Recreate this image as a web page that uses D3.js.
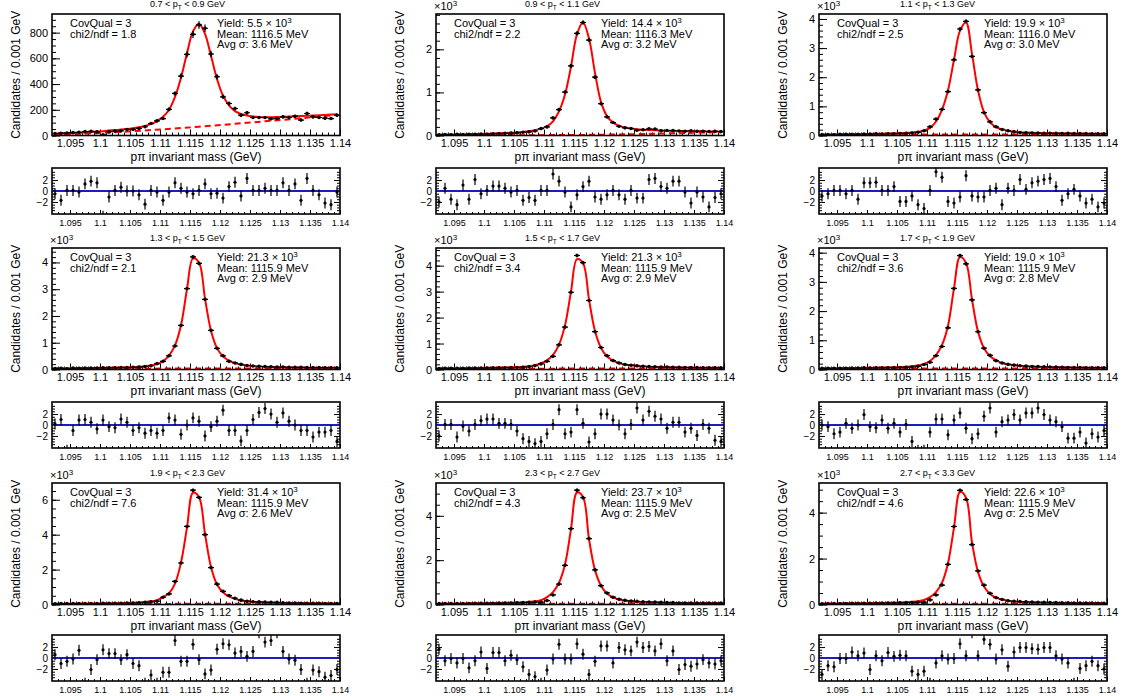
<!DOCTYPE html>
<html>
<head>
<meta charset="utf-8">
<script src="https://cdn.jsdelivr.net/npm/d3@7"></script>
<style>
  body { margin: 0; background: #fff; }
  svg { font-family: "Liberation Sans", Arial, Helvetica, sans-serif; }
  .tick line { stroke: #000; }
</style>
</head>
<body>
<div id="chart"></div>
<script>
// bin centres (GeV), 1 MeV bins
const massBins = [1.0925, 1.0935, 1.0945, 1.0955, 1.0965, 1.0975, 1.0985, 1.0995, 1.1005, 1.1015,
  1.1025, 1.1035, 1.1045, 1.1055, 1.1065, 1.1075, 1.1085, 1.1095, 1.1105, 1.1115,
  1.1125, 1.1135, 1.1145, 1.1155, 1.1165, 1.1175, 1.1185, 1.1195, 1.1205, 1.1215,
  1.1225, 1.1235, 1.1245, 1.1255, 1.1265, 1.1275, 1.1285, 1.1295, 1.1305, 1.1315,
  1.1325, 1.1335, 1.1345, 1.1355, 1.1365, 1.1375, 1.1385, 1.1395];
const massRange = [1.092, 1.140];
const xTickValues = [1.095, 1.1, 1.105, 1.11, 1.115, 1.12, 1.125, 1.13, 1.135, 1.14];
const xTickLabels = ["1.095", "1.1", "1.105", "1.11", "1.115", "1.12", "1.125", "1.13", "1.135", "1.14"];
const bgMass = [1.0925, 1.1005, 1.1085, 1.1165, 1.1245, 1.1325, 1.1395];

const ptLow = ["0.7", "0.9", "1.1", "1.3", "1.5", "1.7", "1.9", "2.3", "2.7"];
const ptHigh = ["0.9", "1.1", "1.3", "1.5", "1.7", "1.9", "2.3", "2.7", "3.3"];
const chi2ndf = ["1.8", "2.2", "2.5", "2.1", "3.4", "3.6", "7.6", "4.3", "4.6"];
const yields = ["5.5", "14.4", "19.9", "21.3", "21.3", "19.0", "31.4", "23.7", "22.6"];
const means = ["1116.5", "1116.3", "1116.0", "1115.9", "1115.9", "1115.9", "1115.9", "1115.9", "1115.9"];
const avgSigma = ["3.6", "3.2", "3.0", "2.9", "2.9", "2.8", "2.6", "2.5", "2.5"];
const yMax = [945, 2820, 4170, 4540, 4680, 4160, 6960, 5480, 5290];
const yExp = [false, true, true, true, true, true, true, true, true];
const yTicks = [[0, 200, 400, 600, 800], [0, 1000, 2000], [0, 1000, 2000, 3000, 4000],
  [0, 1000, 2000, 3000, 4000], [0, 1000, 2000, 3000, 4000], [0, 1000, 2000, 3000, 4000],
  [0, 2000, 4000, 6000], [0, 2000, 4000], [0, 2000, 4000]];
const yTickLabels = [["0", "200", "400", "600", "800"], ["0", "1", "2"], ["0", "1", "2", "3", "4"],
  ["0", "1", "2", "3", "4"], ["0", "1", "2", "3", "4"], ["0", "1", "2", "3", "4"],
  ["0", "2", "4", "6"], ["0", "2", "4"], ["0", "2", "4"]];
const yMinorStep = [50, 200, 200, 200, 200, 200, 500, 500, 500];
const pullTicks = [-2, 0, 2];
const pullTickLabels = ["\u22122", "0", "2"];

// 0.7 < pT < 0.9
const counts07 = [15, 18, 20, 22, 25, 30, 32, 28, 5, 30, 34, 36, 47, 47, 55, 68, 93, 114, 132, 203,
  327, 462, 631, 787, 860, 834, 634, 457, 301, 249, 210, 158, 177, 140, 140, 140, 130, 132, 145, 140,
  150, 120, 171, 145, 140, 135, 132, 158];
const fit07 = [14, 16, 18, 20, 22, 25, 28, 31, 34, 38, 42, 46, 51, 57, 64, 75, 90, 112, 145, 200,
  300, 450, 640, 810, 870, 790, 620, 440, 310, 235, 190, 168, 155, 148, 144, 142, 142, 143, 145, 147,
  149, 151, 153, 155, 157, 160, 163, 166];
const bg07 = [5, 21, 42, 68, 99, 130, 161];
const pull07 = [-0.5, -1.7, 0.1, 0.1, -0.2, 1.3, 1.8, 1.5, -4.6, -1.1, 0.1, 0.7, 0, 0, -0.7, -2.4, 0.1, -0.2, -1.7, -0.2,
  1.5, 0.5, -0.2, -0.5, 0.1, 1.3, -0.5, -0.4, -1.3, 0.8, 1.6, -0.9, 2.3, 0.1, 0.1, 0.5, 0.1, 0.1, 1.5, 0.1,
  1.3, -1.7, 2.3, 0.1, -0.7, -2.2, -2.5, -0.2];

// 0.9 < pT < 1.1
const counts09 = [18, 22, 15, 25, 20, 30, 28, 35, 30, 40, 45, 50, 55, 62, 75, 85, 105, 160, 200, 408,
  600, 1008, 1615, 2370, 2623, 2215, 1354, 738, 430, 300, 215, 177, 162, 123, 135, 155, 150, 110, 115, 112,
  105, 100, 110, 95, 100, 92, 95, 90];
const fit09 = [20, 22, 24, 26, 28, 31, 34, 37, 41, 45, 50, 56, 63, 72, 84, 100, 124, 160, 215, 330,
  560, 950, 1600, 2350, 2620, 2250, 1450, 780, 450, 300, 225, 185, 160, 145, 135, 127, 120, 115, 111, 108,
  105, 102, 100, 98, 96, 94, 92, 90];
const bg09 = [3, 5, 8, 14, 30, 55, 78];
const pull09 = [-2.0, 0.5, -1.5, -2.5, 1.1, -1.5, 2.1, -0.5, 0.1, 0.9, 0.9, 0.5, -0.2, 0.1, -1.7, -1.2, -1.7, 0.1, 0.1, 3.1,
  1.8, -0.2, -2.9, -0.7, 0.8, 1.8, -1.1, -1.5, -0.7, 0.1, -0.7, -1.5, 0.1, -1.3, -1.3, 2.1, 2.3, 0.8, 0.5, 1.8,
  1.8, -0.2, -2.2, -0.2, -1.1, -2.9, -1.2, -0.5];

// 1.1 < pT < 1.3
const counts11 = [30, 35, 25, 40, 38, 45, 40, 50, 48, 55, 52, 60, 62, 70, 75, 85, 110, 161, 299, 563,
  897, 1506, 2598, 3655, 3920, 2713, 1563, 782, 471, 299, 207, 161, 126, 100, 92, 85, 80, 78, 75, 72,
  70, 72, 68, 65, 66, 62, 60, 58];
const fit11 = [35, 37, 39, 41, 43, 45, 48, 51, 54, 58, 62, 67, 73, 80, 90, 103, 125, 165, 260, 480,
  880, 1550, 2600, 3600, 3880, 2800, 1550, 800, 450, 290, 210, 165, 135, 115, 102, 93, 86, 81, 77, 74,
  71, 69, 67, 65, 63, 62, 60, 59];
const bg11 = [22, 26, 30, 34, 38, 42, 46];
const pull11 = [-0.9, -0.5, 0.1, 0.1, -0.5, 0.1, -1.5, 1.5, 1.5, 1.6, 0.1, 0.1, 0.8, -1.9, -1.9, -0.9, -2.5, -3.2, 0.1, 3.5,
  2.5, -1.9, -2.2, -1.1, 2.8, -0.9, -1.1, -1.1, 0.1, 0.5, -2.5, 0.5, 0.1, 2.1, 0.3, 1.5, 1.8, 2.1, 2.3, 0.8,
  -1.7, -0.5, 0.3, -0.9, -2.2, -1.5, -2.9, -2.2];

// 1.3 < pT < 1.5
const counts13 = [40, 45, 25, 50, 48, 55, 52, 58, 60, 62, 65, 70, 75, 80, 90, 110, 140, 220, 305, 512,
  878, 1646, 3024, 4207, 3963, 2622, 1463, 793, 512, 305, 244, 190, 150, 130, 120, 110, 100, 92, 90, 85,
  80, 78, 75, 70, 70, 68, 66, 60];
const fit13 = [42, 44, 46, 48, 50, 53, 56, 59, 63, 67, 72, 78, 85, 93, 105, 122, 150, 200, 310, 520,
  900, 1650, 3000, 4150, 4000, 2650, 1450, 800, 490, 330, 240, 185, 150, 127, 112, 101, 93, 87, 82, 78,
  75, 72, 70, 68, 66, 64, 62, 61];
const bg13 = [24, 28, 32, 36, 40, 44, 48];
const pull13 = [0.2, 1.0, -4.6, -1.0, 0.9, 1.0, 0.5, -0.7, 0.9, -0.3, -0.5, 1.1, 0.5, -1.0, -0.5, -1.5, -1.0, -1.5, -1.0, 1.3,
  0.9, -1.7, 0, 1.3, 0.7, -2.0, -0.3, 0.7, 2.7, -1.0, -1.0, -2.9, -1.0, 1.0, 2.3, 3.0, 2.0, 0.5, 2.2, 0.7,
  0, -1.0, -1.0, -2.2, -1.3, -1.3, -1.0, -3.0];

// 1.5 < pT < 1.7
const counts15 = [40, 42, 45, 48, 45, 52, 55, 55, 60, 62, 65, 68, 72, 78, 88, 105, 150, 215, 316, 506,
  949, 1633, 2975, 4392, 4114, 2658, 1456, 848, 532, 342, 253, 190, 165, 140, 125, 110, 102, 95, 90, 85,
  80, 78, 76, 72, 70, 68, 65, 62];
const fit15 = [44, 46, 48, 50, 52, 55, 58, 62, 66, 70, 75, 81, 88, 97, 110, 130, 165, 230, 350, 560,
  960, 1700, 3000, 4250, 4100, 2700, 1480, 830, 510, 340, 250, 195, 160, 137, 122, 110, 101, 94, 89, 84,
  80, 77, 74, 71, 69, 67, 65, 63];
const bg15 = [24, 28, 32, 36, 40, 44, 48];
const pull15 = [-2.0, 0.1, 0.1, -2.2, -0.2, -1.1, 0.1, 0.8, 1.1, 1.1, 0.3, 0.3, 0.1, -1.1, -2.5, -3.0, -3.4, -3.0, -1.6, 0.1,
  2.8, -1.6, -1.3, 2.8, 0.3, -3.1, -1.6, 2.0, 2.0, 0.9, 0, -1.6, 0.1, 3.1, 0.9, 2.5, 1.6, 1.1, -0.6, 0.5,
  0.5, -1.3, -0.6, -1.9, 0.1, -0.6, -2.8, -3.0];

// 1.7 < pT < 1.9
const counts17 = [38, 40, 42, 45, 44, 48, 50, 55, 52, 55, 60, 62, 66, 70, 78, 85, 110, 169, 247, 472,
  787, 1427, 2775, 3899, 3618, 2382, 1292, 730, 483, 303, 225, 175, 150, 128, 115, 105, 100, 92, 85, 80,
  76, 70, 68, 66, 62, 62, 60, 58];
const fit17 = [40, 42, 44, 46, 48, 50, 53, 56, 59, 63, 67, 72, 78, 86, 97, 113, 140, 190, 290, 490,
  840, 1500, 2780, 3850, 3650, 2400, 1300, 730, 460, 310, 225, 177, 145, 124, 110, 100, 92, 86, 81, 77,
  74, 71, 69, 67, 65, 63, 61, 60];
const bg17 = [22, 26, 30, 34, 38, 42, 46];
const pull17 = [0, -0.3, -1.6, -1.3, 0.3, -0.6, 0, 1.9, -0.3, -0.5, 0.9, -0.6, 0.3, -1.3, 0.1, -3.0, -4.6, -4.6, -1.3, 1.1,
  1.1, -1.8, 0.9, 2.2, -0.6, -2.5, -1.6, 1.6, 3.1, -1.3, 0.6, 0.9, 1.9, 0.9, 2.2, 2.2, 3.1, 1.9, 0.9, 0.6,
  -0.3, -2.4, -2.4, -1.3, -3.3, -1.6, -2.2, -1.0];

// 1.9 < pT < 2.3
const counts19 = [45, 48, 50, 52, 55, 52, 55, 58, 62, 65, 70, 72, 78, 85, 95, 120, 150, 189, 415, 604,
  1321, 2377, 4472, 6547, 6132, 4000, 2113, 1170, 755, 509, 358, 250, 190, 160, 150, 140, 125, 120, 100, 90,
  85, 75, 65, 68, 65, 60, 58, 60];
const fit19 = [44, 46, 48, 50, 52, 55, 58, 62, 66, 70, 75, 81, 89, 100, 115, 140, 180, 250, 420, 650,
  1200, 2400, 4400, 6400, 6150, 4050, 2150, 1150, 700, 460, 320, 235, 180, 145, 122, 107, 97, 90, 84, 80,
  76, 73, 70, 68, 66, 64, 62, 60];
const bg19 = [26, 30, 34, 38, 42, 46, 50];
const pull19 = [0.6, -1.0, -0.6, -0.2, 1.4, -4.6, -2.1, -0.3, 1.5, 0.8, 0.8, -0.3, 0.6, -1.0, -1.4, -4.6, -3.1, -4.6, -2.6, -2.6,
  3.2, -0.6, -0.6, 2.5, -0.3, -2.9, -2.2, 1.6, 2.6, 2.4, 0.9, 1.2, 0.3, 1.2, 4.6, 2.9, 3.2, 4.6, 1.2, -0.2,
  -0.4, -2.1, -4.6, -2.2, -2.5, -3.5, -3.2, -2.1];

// 2.3 < pT < 2.7
const counts23 = [40, 42, 44, 45, 46, 48, 50, 52, 55, 58, 62, 65, 70, 75, 85, 95, 110, 104, 178, 431,
  921, 1768, 3418, 5156, 4814, 2972, 1560, 847, 520, 330, 240, 190, 160, 140, 125, 115, 105, 100, 85, 85,
  70, 70, 68, 66, 65, 62, 60, 60];
const fit23 = [42, 44, 46, 48, 50, 52, 55, 58, 61, 65, 69, 74, 80, 88, 100, 118, 145, 195, 330, 560,
  980, 1800, 3400, 5050, 4850, 2950, 1550, 850, 500, 320, 225, 170, 135, 115, 100, 92, 85, 80, 76, 73,
  70, 68, 66, 64, 63, 62, 61, 60];
const bg23 = [24, 28, 32, 36, 40, 44, 48];
const pull23 = [1.6, -0.5, -0.1, -0.9, -0.1, -1.8, -0.5, 1.1, -1.9, 1.0, 1.0, -0.5, 0.5, -0.3, -1.6, -3.0, -3.4, -4.6, -2.2, -0.2,
  2.5, -0.2, -0.2, 2.6, 0.7, -3.0, -0.6, 2.2, 2.2, -0.9, 1.9, 1.5, 1.3, 2.9, 1.9, 2.1, 1.3, 2.6, -0.5, 1.3,
  -2.1, -1.2, -1.5, -1.1, -0.3, -0.9, -1.1, -0.5];

// 2.7 < pT < 3.3
const counts27 = [30, 38, 40, 45, 46, 50, 50, 54, 52, 58, 60, 65, 68, 72, 80, 90, 100, 100, 200, 415,
  845, 1748, 3395, 4971, 4570, 2607, 1461, 845, 487, 300, 220, 165, 140, 125, 115, 105, 98, 92, 88, 80,
  75, 70, 66, 62, 60, 60, 57, 55];
const fit27 = [42, 44, 46, 48, 50, 52, 55, 58, 61, 65, 69, 74, 80, 88, 100, 118, 145, 195, 320, 540,
  950, 1800, 3350, 4900, 4650, 2700, 1420, 780, 460, 300, 215, 165, 133, 113, 100, 91, 85, 80, 76, 73,
  70, 68, 66, 64, 62, 61, 60, 58];
const bg27 = [22, 26, 30, 34, 38, 42, 46];
const pull27 = [-3.0, -1.4, -1.6, -0.1, -0.1, 1.1, 0.4, 0.9, -2.1, 0.4, -0.5, 1.0, 0.3, 0.5, 0.4, -2.4, -3.0, -2.4, -4.6, -0.9,
  0.4, -0.2, -0.1, 2.6, 0.4, 4.6, 0.4, 3.4, 2.5, -0.2, 1.5, -1.5, 1.1, 1.9, 1.9, 1.7, 1.6, 1.9, 1.9, 0.4,
  -0.2, -0.9, -4.6, -1.9, -1.4, -0.6, -1.4, -2.0];

const allCounts = [counts07, counts09, counts11, counts13, counts15, counts17, counts19, counts23, counts27];
const allFits = [fit07, fit09, fit11, fit13, fit15, fit17, fit19, fit23, fit27];
const allBg = [bg07, bg09, bg11, bg13, bg15, bg17, bg19, bg23, bg27];
const allPulls = [pull07, pull09, pull11, pull13, pull15, pull17, pull19, pull23, pull27];

// layout
const colLeft = [52, 436, 819];
const rowTop = [14, 248, 483];
const resTop = [168, 402, 635];
const frameWidth = 288;
const frameHeight = 121.5;
const resHeight = 46;
const pullRange = [-4.2, 4.2];

const svg = d3.select("#chart").append("svg")
  .attr("width", 1125)
  .attr("height", 696);

class massPanel {
  constructor(svg, idx) {
    this.svg = svg;
    this.idx = idx;
    this.initVis();
  }

  initVis() {
    let vis = this;
    vis.col = vis.idx % 3;
    vis.row = Math.floor(vis.idx / 3);
    vis.left = colLeft[vis.col];
    vis.top = rowTop[vis.row];

    vis.x = d3.scaleLinear().domain(massRange).range([0, frameWidth]);
    vis.y = d3.scaleLinear().domain([0, yMax[vis.idx]]).range([frameHeight, 0]);
    vis.yRes = d3.scaleLinear().domain(pullRange).range([resHeight, 0]);

    vis.main = vis.svg.append("g")
      .attr("transform", "translate(" + vis.left + "," + vis.top + ")");
    vis.res = vis.svg.append("g")
      .attr("transform", "translate(" + vis.left + "," + resTop[vis.row] + ")");

    vis.main.append("clipPath").attr("id", "clipMain" + vis.idx)
      .append("rect").attr("width", frameWidth).attr("height", frameHeight);
    vis.res.append("clipPath").attr("id", "clipRes" + vis.idx)
      .append("rect").attr("width", frameWidth).attr("height", resHeight);

    vis.data = massBins.map((m, i) => ({
      m: m,
      n: allCounts[vis.idx][i],
      fit: allFits[vis.idx][i],
      pull: allPulls[vis.idx][i]
    }));
    vis.bgData = bgMass.map((m, i) => ({ m: m, v: allBg[vis.idx][i] }));

    vis.updateVis();
  }

  drawXAxis(g, h, major, minor, pad, fontSize) {
    let vis = this;
    let minorTicks = d3.range(1093, 1141).map((d) => d / 1000)
      .filter((d) => Math.round(d * 1000) % 5 !== 0);
    g.append("g")
      .attr("transform", "translate(0," + h + ")")
      .call(d3.axisBottom(vis.x).tickValues(minorTicks).tickSize(-minor).tickFormat(""))
      .call((a) => a.select(".domain").remove());
    g.append("g")
      .attr("transform", "translate(0," + h + ")")
      .call(d3.axisBottom(vis.x).tickValues(xTickValues).tickSize(-major).tickPadding(pad)
        .tickFormat((d, i) => xTickLabels[i]))
      .call((a) => a.select(".domain").remove())
      .selectAll("text")
      .style("font-size", fontSize + "px")
      .style("font-family", "Liberation Sans, Arial, sans-serif")
      .attr("fill", "#000");
  }

  updateVis() {
    let vis = this;
    let idx = vis.idx;

    // ---- main frame ----
    let yMinor = d3.range(0, yMax[idx], yMinorStep[idx]);
    vis.main.append("g")
      .call(d3.axisLeft(vis.y).tickValues(yMinor).tickSize(-4).tickFormat(""))
      .call((a) => a.select(".domain").remove());
    vis.main.append("g")
      .call(d3.axisLeft(vis.y).tickValues(yTicks[idx]).tickSize(-8).tickPadding(4)
        .tickFormat((d, i) => yTickLabels[idx][i]))
      .call((a) => a.select(".domain").remove())
      .selectAll("text")
      .style("font-size", "11px")
      .style("font-family", "Liberation Sans, Arial, sans-serif")
      .attr("fill", "#000");
    vis.drawXAxis(vis.main, frameHeight, 6, 3, 4, 11);

    let plot = vis.main.append("g").attr("clip-path", "url(#clipMain" + idx + ")");

    // background component (dashed)
    plot.append("path")
      .datum(vis.bgData)
      .attr("d", d3.line().x((d) => vis.x(d.m)).y((d) => vis.y(d.v)).curve(d3.curveMonotoneX))
      .style("fill", "none")
      .style("stroke", "#ff0000")
      .style("stroke-width", 2)
      .style("stroke-dasharray", "6,4");

    // total fit
    plot.append("path")
      .datum(vis.data)
      .attr("d", d3.line().x((d) => vis.x(d.m)).y((d) => vis.y(d.fit)).curve(d3.curveCatmullRom.alpha(0.5)))
      .style("fill", "none")
      .style("stroke", "#ff0000")
      .style("stroke-width", 2);

    // data points with errors
    let halfBin = (vis.x(1.001) - vis.x(1.0)) / 2;
    let pts = plot.selectAll(".pt").data(vis.data).enter().append("g").attr("class", "pt");
    pts.append("line")
      .attr("x1", (d) => vis.x(d.m) - halfBin)
      .attr("x2", (d) => vis.x(d.m) + halfBin)
      .attr("y1", (d) => vis.y(d.n))
      .attr("y2", (d) => vis.y(d.n))
      .style("stroke", "#000").style("stroke-width", 1.2);
    pts.append("line")
      .attr("x1", (d) => vis.x(d.m))
      .attr("x2", (d) => vis.x(d.m))
      .attr("y1", (d) => vis.y(d.n + Math.sqrt(d.n)))
      .attr("y2", (d) => vis.y(d.n - Math.sqrt(d.n)))
      .style("stroke", "#000").style("stroke-width", 1.2);
    pts.append("circle")
      .attr("cx", (d) => vis.x(d.m))
      .attr("cy", (d) => vis.y(d.n))
      .attr("r", 1.8)
      .style("fill", "#000");

    vis.main.append("rect")
      .attr("width", frameWidth).attr("height", frameHeight)
      .style("fill", "none").style("stroke", "#000").style("stroke-width", 1.6);

    // texts
    let pad = vis.col * 375 + 187.5 - vis.left;
    let title = vis.main.append("text")
      .attr("x", pad).attr("y", -7)
      .attr("text-anchor", "middle")
      .style("font-size", "9px");
    title.append("tspan").text(ptLow[idx] + " < p");
    title.append("tspan").attr("dy", 2.5).style("font-size", "6.5px").text("T");
    title.append("tspan").attr("dy", -2.5).text("  < " + ptHigh[idx] + " GeV");

    if (yExp[idx]) {
      let ex = vis.main.append("text").attr("x", -2).attr("y", -4).style("font-size", "11px");
      ex.append("tspan").text("\u00d710");
      ex.append("tspan").attr("dy", -4).style("font-size", "8px").text("3");
    }

    vis.main.append("text")
      .attr("transform", "translate(-36," + frameHeight / 2 + ") rotate(-90)")
      .attr("text-anchor", "middle")
      .attr("dy", "0.35em")
      .style("font-size", "12px")
      .text("Candidates / 0.001 GeV");

    vis.main.append("text")
      .attr("x", frameWidth / 2).attr("y", frameHeight + 25)
      .attr("text-anchor", "middle")
      .style("font-size", "12px")
      .text("p\u03c0 invariant mass (GeV)");

    let leftLines = ["CovQual = 3", "chi2/ndf = " + chi2ndf[idx]];
    vis.main.selectAll(".lt").data(leftLines).enter().append("text")
      .attr("x", 18).attr("y", (d, i) => 13 + i * 10.5)
      .style("font-size", "11px")
      .text((d) => d);

    let yl = vis.main.append("text").attr("x", 165).attr("y", 13).style("font-size", "11px");
    yl.append("tspan").text("Yield: " + yields[idx] + " \u00d7 10");
    yl.append("tspan").attr("dy", -4).style("font-size", "8px").text("3");
    vis.main.append("text").attr("x", 165).attr("y", 23.5).style("font-size", "11px")
      .text("Mean: " + means[idx] + " MeV");
    vis.main.append("text").attr("x", 165).attr("y", 34).style("font-size", "11px")
      .text("Avg \u03c3: " + avgSigma[idx] + " MeV");

    // ---- residual frame ----
    let pullMinor = d3.range(-4, 4.01, 0.5).filter((d) => d % 2 !== 0);
    vis.res.append("g")
      .call(d3.axisLeft(vis.yRes).tickValues(pullMinor).tickSize(-3).tickFormat(""))
      .call((a) => a.select(".domain").remove());
    vis.res.append("g")
      .attr("transform", "translate(" + frameWidth + ",0)")
      .call(d3.axisRight(vis.yRes).tickValues(pullMinor).tickSize(-3).tickFormat(""))
      .call((a) => a.select(".domain").remove());
    vis.res.append("g")
      .attr("transform", "translate(" + frameWidth + ",0)")
      .call(d3.axisRight(vis.yRes).tickValues(pullTicks).tickSize(-6).tickFormat(""))
      .call((a) => a.select(".domain").remove());
    vis.res.append("g")
      .call(d3.axisLeft(vis.yRes).tickValues(pullTicks).tickSize(-6).tickPadding(4)
        .tickFormat((d, i) => pullTickLabels[i]))
      .call((a) => a.select(".domain").remove())
      .selectAll("text")
      .style("font-size", "10px")
      .style("font-family", "Liberation Sans, Arial, sans-serif")
      .attr("fill", "#000");
    vis.drawXAxis(vis.res, resHeight, 4, 2, 6, 9);

    let rplot = vis.res.append("g").attr("clip-path", "url(#clipRes" + idx + ")");
    rplot.append("line")
      .attr("x1", 0).attr("x2", frameWidth)
      .attr("y1", vis.yRes(0)).attr("y2", vis.yRes(0))
      .style("stroke", "#1c1cc0").style("stroke-width", 2);

    let rp = rplot.selectAll(".rp").data(vis.data).enter().append("g").attr("class", "rp");
    rp.append("line")
      .attr("x1", (d) => vis.x(d.m))
      .attr("x2", (d) => vis.x(d.m))
      .attr("y1", (d) => vis.yRes(d.pull + 1))
      .attr("y2", (d) => vis.yRes(d.pull - 1))
      .style("stroke", "#000").style("stroke-width", 1.2);
    rp.append("circle")
      .attr("cx", (d) => vis.x(d.m))
      .attr("cy", (d) => vis.yRes(d.pull))
      .attr("r", 1.6)
      .style("fill", "#000");

    vis.res.append("rect")
      .attr("width", frameWidth).attr("height", resHeight)
      .style("fill", "none").style("stroke", "#000").style("stroke-width", 1.6);
  }
}

for (let i = 0; i < 9; i++) {
  new massPanel(svg, i);
}
</script>
</body>
</html>
